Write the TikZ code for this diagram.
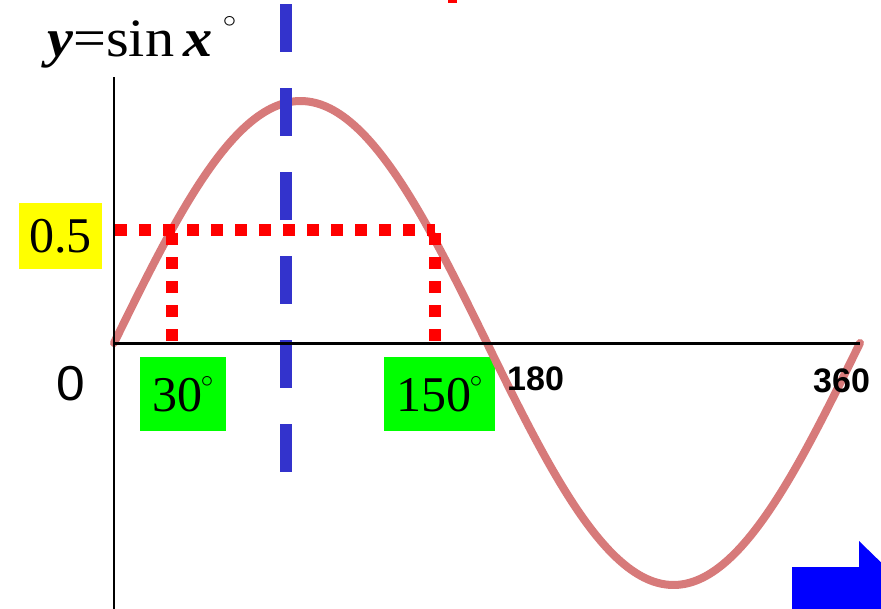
\documentclass[tikz,border=0pt]{standalone}
\usepackage{fontspec}
\setmainfont{Liberation Serif}
\newfontfamily\arial{Liberation Sans}
\definecolor{curvecol}{HTML}{D77A7A}
\definecolor{dashblue}{HTML}{3333CC}
\definecolor{gbox}{HTML}{00FF00}
\definecolor{ybox}{HTML}{FFFF00}
\newcommand{\degsmall}{\hspace{-2pt}\raisebox{24pt}{\fontsize{24}{24}\selectfont$\circ$}}
\newcommand{\degbig}{\raisebox{29pt}{\fontsize{30}{30}\selectfont$\circ$}}
\tikzset{
  serifbig/.style={font=\fontsize{50}{50}\selectfont},
  sansnum/.style={font=\arial\bfseries\fontsize{34}{34}\selectfont},
  greenbox/.style={fill=gbox, inner sep=0pt, minimum height=74pt, serifbig},
  reddots/.style={draw=red, line width=12pt, dash pattern=on 12pt off 12pt},
}
\begin{document}
\begin{tikzpicture}[x=1pt,y=-1pt]
\clip (0,0) rectangle (881,608);
\fill[white] (0,0) rectangle (881,608);
% title
\node[font=\fontsize{54}{54}\selectfont, anchor=base west, inner sep=0pt, xscale=1.08] (title) at (47,56)
  {\textbf{\textit{y}}=sin\,\textbf{\textit{x}}\,\degbig};
% boxes
\node[fill=ybox, inner sep=0pt, minimum width=83pt, minimum height=66pt, serifbig] (half) at (60.5,236) {0.5};
\node[greenbox, minimum width=86pt] (b30) at (183,394) {30\degsmall\hspace{12pt}};
\node[greenbox, minimum width=111pt] (b150) at (439.5,394) {150\degsmall\hspace{12pt}};
% curve
\draw[curvecol, line width=8pt, line cap=round] plot[domain=0:360, samples=120, smooth] ({114+\x*2.07222},{343-242*sin(\x)});
% red dotted guides
\coordinate (h0) at (115,230);
\coordinate (h1) at (435,230);
\coordinate (h2) at (435,343);
\coordinate (v0) at (172,233);
\coordinate (v1) at (172,343);
\draw[reddots] (h0) -- (h1);
\draw[reddots] (h1) ++(0,3) -- (h2);
\draw[reddots] (v0) -- (v1);
% blue dashed line
\coordinate (d0) at (286,4);
\coordinate (d1) at (286,472);
\draw[dashblue, line width=12pt, dash pattern=on 48pt off 36pt] (d0) -- (d1);
% axes
\coordinate (o) at (114,343);
\coordinate (yt) at (114,77);
\coordinate (yb) at (114,610);
\coordinate (xe) at (860,343);
\draw[line width=2pt] (yt) -- (yb);
\draw[line width=3pt] (o) -- (xe);
% axis labels
\node[font=\arial\fontsize{49}{49}\selectfont, inner sep=0pt, anchor=base, xscale=1.05] (zero) at (71,400) {0};
\node[sansnum, inner sep=0pt, anchor=base west] (l180) at (507,390) {180};
\node[sansnum, inner sep=0pt, anchor=base west] (l360) at (813,392) {360};
% red mark at top
\fill[red] (448,0) rectangle (457,2.5);
% blue arrow shape
\fill[blue] (792,610) -- (792,567) -- (859,567) -- (859,541) -- (930,610) -- cycle;
\end{tikzpicture}
\end{document}
